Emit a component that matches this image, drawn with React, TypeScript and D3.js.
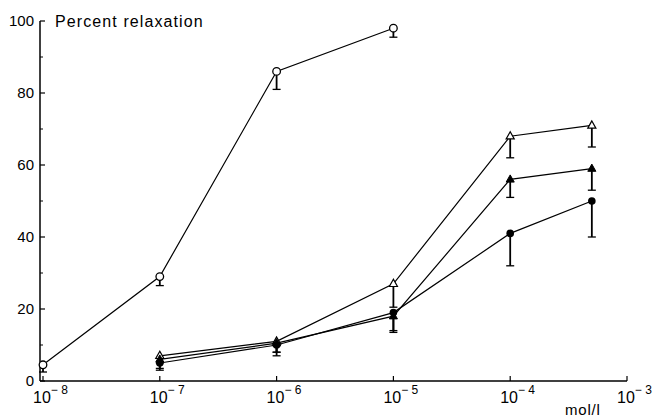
import React from "react";
import * as d3 from "d3";

const concentrations = [1e-8, 1e-7, 1e-6, 1e-5, 1e-4, 5e-4];
const xTickExps = [-8, -7, -6, -5, -4, -3];
const yTicks = [0, 20, 40, 60, 80, 100];
const yMinorTicks = [10, 30, 50, 70, 90];

// open circles
const openCircleX = [1e-8, 1e-7, 1e-6, 1e-5];
const openCircleY = [4.5, 29, 86, 98];
const openCircleLow = [2.5, 26.5, 81, 95.5];

// open triangles
const openTriX = [1e-7, 1e-6, 1e-5, 1e-4, 5e-4];
const openTriY = [7, 11, 27, 68, 71];
const openTriLow = [5, 8, 20.5, 62, 65];

// filled triangles
const fillTriX = [1e-7, 1e-6, 1e-5, 1e-4, 5e-4];
const fillTriY = [6, 10.5, 18, 56, 59];
const fillTriLow = [3.5, 7, 13.5, 51, 53];

// filled circles
const fillCircX = [1e-7, 1e-6, 1e-5, 1e-4, 5e-4];
const fillCircY = [5, 10, 19, 41, 50];
const fillCircLow = [3, 8, 14, 32, 40];

const W = 652;
const H = 419;

export default function App() {
  const x = d3.scaleLog().domain([1e-8, 1e-3]).range([43, 627]);
  const y = d3.scaleLinear().domain([0, 100]).range([381, 21]);
  const line = d3.line<[number, number]>().x(d => x(d[0])).y(d => y(d[1]));
  const font = "'Liberation Sans', Arial, sans-serif";

  const series = [
    { xs: openCircleX, ys: openCircleY, lo: openCircleLow, kind: "oc" },
    { xs: openTriX, ys: openTriY, lo: openTriLow, kind: "ot" },
    { xs: fillTriX, ys: fillTriY, lo: fillTriLow, kind: "ft" },
    { xs: fillCircX, ys: fillCircY, lo: fillCircLow, kind: "fc" },
  ];

  const marker = (kind: string, cx: number, cy: number, key: string) => {
    if (kind === "oc") return <circle key={key} cx={cx} cy={cy} r={3.8} fill="white" stroke="black" strokeWidth={1.3} />;
    if (kind === "fc") return <circle key={key} cx={cx} cy={cy} r={3.8} fill="black" />;
    const s = 4.5;
    const pts = `${cx},${cy - s} ${cx - s * 0.9},${cy + s * 0.6} ${cx + s * 0.9},${cy + s * 0.6}`;
    if (kind === "ot") return <polygon key={key} points={pts} fill="white" stroke="black" strokeWidth={1.2} />;
    return <polygon key={key} points={pts} fill="black" stroke="black" strokeWidth={1} />;
  };

  return (
    <svg width={W} height={H} style={{ position: "absolute", left: 0, top: 0, background: "white" }}>
      {/* axes */}
      <line x1={40} y1={y(100)} x2={40} y2={y(0)} stroke="black" strokeWidth={1.5} />
      <line x1={40} y1={y(0)} x2={x(1e-3)} y2={y(0)} stroke="black" strokeWidth={1.5} />
      {yTicks.map(t => (
        <g key={"yt" + t}>
          <line x1={40} x2={45} y1={y(t)} y2={y(t)} stroke="black" strokeWidth={1.2} />
          <text x={34} y={y(t) + 5} textAnchor="end" fontFamily={font} fontSize={15}>{t}</text>
        </g>
      ))}
      {yMinorTicks.map(t => (
        <line key={"ym" + t} x1={40} x2={43} y1={y(t)} y2={y(t)} stroke="black" strokeWidth={1} />
      ))}
      {xTickExps.map(e => (
        <g key={"xt" + e}>
          <line x1={x(Math.pow(10, e))} x2={x(Math.pow(10, e))} y1={y(0)} y2={y(0) - 5} stroke="black" strokeWidth={1.2} />
          <text x={x(Math.pow(10, e)) - 10} y={403} fontFamily={font} fontSize={16}>
            10
            <tspan dy={-9} fontSize={12}>{"\u2212 " + Math.abs(e)}</tspan>
          </text>
        </g>
      ))}
      <text x={565} y={415} fontFamily={font} fontSize={15} letterSpacing={0.8}>mol/l</text>
      <text x={55} y={27} fontFamily={font} fontSize={16} letterSpacing={1.1}>Percent relaxation</text>

      {series.map((s, si) => {
        const pts = s.xs.map((xv, i) => [xv, s.ys[i]] as [number, number]);
        return (
          <g key={"s" + si}>
            <path d={line(pts) || ""} fill="none" stroke="black" strokeWidth={1.2} />
            {s.xs.map((xv, i) => (
              <g key={"e" + i}>
                <line x1={x(xv)} x2={x(xv)} y1={y(s.ys[i])} y2={y(s.lo[i])} stroke="black" strokeWidth={1.8} />
                <line x1={x(xv) - 4} x2={x(xv) + 4} y1={y(s.lo[i])} y2={y(s.lo[i])} stroke="black" strokeWidth={1.3} />
              </g>
            ))}
            {s.xs.map((xv, i) => marker(s.kind, x(xv), y(s.ys[i]), "m" + i))}
          </g>
        );
      })}
    </svg>
  );
}
